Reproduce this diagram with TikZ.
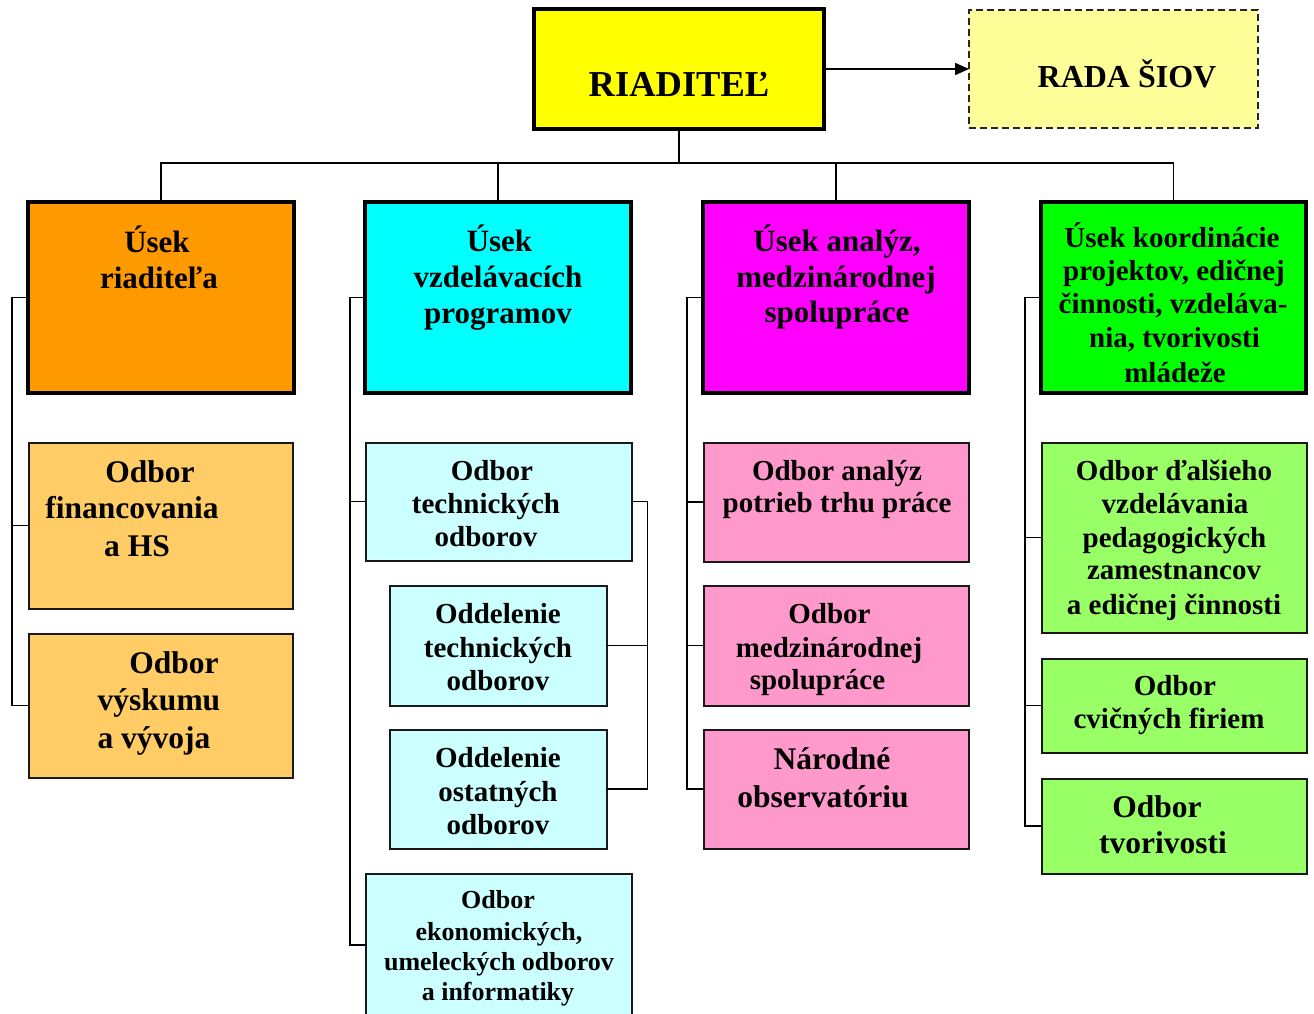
\documentclass[tikz,border=0pt]{standalone}
\usepackage{fontspec}
\setmainfont{Liberation Serif}
\usetikzlibrary{arrows.meta}
\definecolor{cYel}{HTML}{FFFF00}
\definecolor{cYelL}{HTML}{FFFF99}
\definecolor{cOr}{HTML}{FF9900}
\definecolor{cOrL}{HTML}{FFCC66}
\definecolor{cCy}{HTML}{00FFFF}
\definecolor{cCyL}{HTML}{CCFFFF}
\definecolor{cMg}{HTML}{FF00FF}
\definecolor{cMgL}{HTML}{FF99CC}
\definecolor{cGr}{HTML}{00FF00}
\definecolor{cGrL}{HTML}{99FF66}
\tikzset{
  mainbox/.style={draw=black, line width=3.2pt, rectangle, inner sep=0pt, outer sep=0pt},
  subbox/.style={draw=black!90, line width=2pt, rectangle, inner sep=0pt, outer sep=0pt},
  dashbox/.style={draw=black!85, line width=2pt, dash pattern=on 7pt off 4pt, rectangle, inner sep=0pt, outer sep=0pt},
  conn/.style={draw=black, line width=1.9pt},
  lbl/.style={inner sep=0pt, anchor=base, font=\bfseries\fontsize{#1}{#1}\selectfont}
}
\newcommand\bx[6]{\node[#2, minimum width=#5pt, minimum height=#6pt] (#1) at (#3,#4) {};}
\newcommand\tlines[3]{\foreach \s/\x/\y [count=\i] in {#3} {\node[lbl=#2] (#1-\i) at (\x,\y) {\s};}}
\begin{document}
\begin{tikzpicture}[x=1pt,y=-1pt]
\useasboundingbox (0,0) rectangle (1314,1014);
% boxes
\bx{dir}{mainbox, fill=cYel}{679}{69}{290}{120}
\bx{rada}{dashbox, fill=cYelL}{1113.5}{69}{289}{118}
\bx{u1}{mainbox, fill=cOr}{161}{297.5}{266}{191}
\bx{u2}{mainbox, fill=cCy}{498}{297.5}{266}{191}
\bx{u3}{mainbox, fill=cMg}{836}{297.5}{266}{191}
\bx{u4}{mainbox, fill=cGr}{1173.5}{297.5}{265}{191}
\bx{o1}{subbox, fill=cOrL}{160.5}{525.5}{264}{166}
\bx{o2}{subbox, fill=cOrL}{160.5}{705.5}{264}{144}
\bx{c1}{subbox, fill=cCyL}{498.5}{501.5}{266}{118}
\bx{c2}{subbox, fill=cCyL}{498}{645.5}{217}{120}
\bx{c3}{subbox, fill=cCyL}{498}{789}{217}{119}
\bx{c4}{subbox, fill=cCyL}{498.5}{945}{266}{143}
\bx{m1}{subbox, fill=cMgL}{836}{502}{265}{119}
\bx{m2}{subbox, fill=cMgL}{836}{645.5}{265}{120}
\bx{m3}{subbox, fill=cMgL}{836}{789}{265}{119}
\bx{g1}{subbox, fill=cGrL}{1174}{537.5}{265}{190}
\bx{g2}{subbox, fill=cGrL}{1174}{705.5}{265}{94}
\bx{g3}{subbox, fill=cGrL}{1174}{826}{265}{95}
% connectors
\coordinate (bus) at (679,163);
\draw[conn] (dir.south) -- (bus);
\draw[conn] (u1.north) |- (bus);
\draw[conn] (u2.north) |- (bus);
\draw[conn] (u3.north) |- (bus);
\draw[conn] (u4.north) |- (bus);
\draw[conn, -{Triangle[length=14pt,width=12pt]}] (dir.east) -- (rada.west);
\draw[conn] (u1.west) -- ++(-16,0) |- (o2.west);
\draw[conn] (o1.west) -- ++(-17,0);
\draw[conn] (u2.west) -- ++(-15,0) |- (c4.west);
\draw[conn] (c1.west) -- ++(-16,0);
\draw[conn] (c1.east) -- ++(16,0) |- (c3.east);
\draw[conn] (c2.east) -- ++(41,0);
\draw[conn] (u3.west) -- ++(-16,0) |- (m3.west);
\draw[conn] (m1.west) -- ++(-17,0);
\draw[conn] (m2.west) -- ++(-17,0);
\draw[conn] (u4.west) -- ++(-16,0) |- (g3.west);
\draw[conn] (g1.west) -- ++(-17,0);
\draw[conn] (g2.west) -- ++(-17,0);
% texts
\tlines{tdir}{36.5}{RIADITEĽ/679/97}
\tlines{trada}{32}{RADA ŠIOV/1127/88}
\tlines{tu1}{31}{Úsek/157/252, riaditeľa/159/288}
\tlines{tu2}{31}{Úsek/499.5/251, vzdelávacích/498/287, programov/498/323}
\tlines{tu3}{31}{{Úsek analýz,}/837/251, medzinárodnej/836/287, spolupráce/837/322}
\tlines{tu4}{29}{Úsek koordinácie/1172/247, {projektov, edičnej}/1174/280, {činnosti, vzdeláva-}/1173/313, {nia, tvorivosti}/1174.5/347, mládeže/1175/382}
\tlines{to1}{31.5}{Odbor/150/482, financovania/132/518, a HS/137/556}
\tlines{to2}{31.5}{Odbor/174/673, výskumu/159/710, a vývoja/154/748}
\tlines{tc1}{29}{Odbor/492/480, technických/486/513, odborov/486/546}
\tlines{tc2}{29}{Oddelenie/498/623, technických/498/657, odborov/498/690}
\tlines{tc3}{29}{Oddelenie/498/767, ostatných/498/801, odborov/498/834}
\tlines{tc4}{26}{Odbor/498/908, {ekonomických,}/499/940, umeleckých odborov/499/970, a informatiky/498/1000}
\tlines{tm1}{29}{Odbor analýz/837/480, potrieb trhu práce/837/512}
\tlines{tm2}{29}{Odbor/829.5/623, medzinárodnej/829/657, spolupráce/817.5/689}
\tlines{tm3}{31.5}{Národné/832/769, observatóriu/823/807}
\tlines{tg1}{29}{Odbor ďalšieho/1174/480, vzdelávania/1175/513, pedagogických/1174.5/547, zamestnancov/1174/579, a edičnej činnosti/1174/614}
\tlines{tg2}{29}{Odbor/1175/695, cvičných firiem/1169/728}
\tlines{tg3}{31.5}{Odbor/1157/817, tvorivosti/1163/853}
\end{tikzpicture}
\end{document}
